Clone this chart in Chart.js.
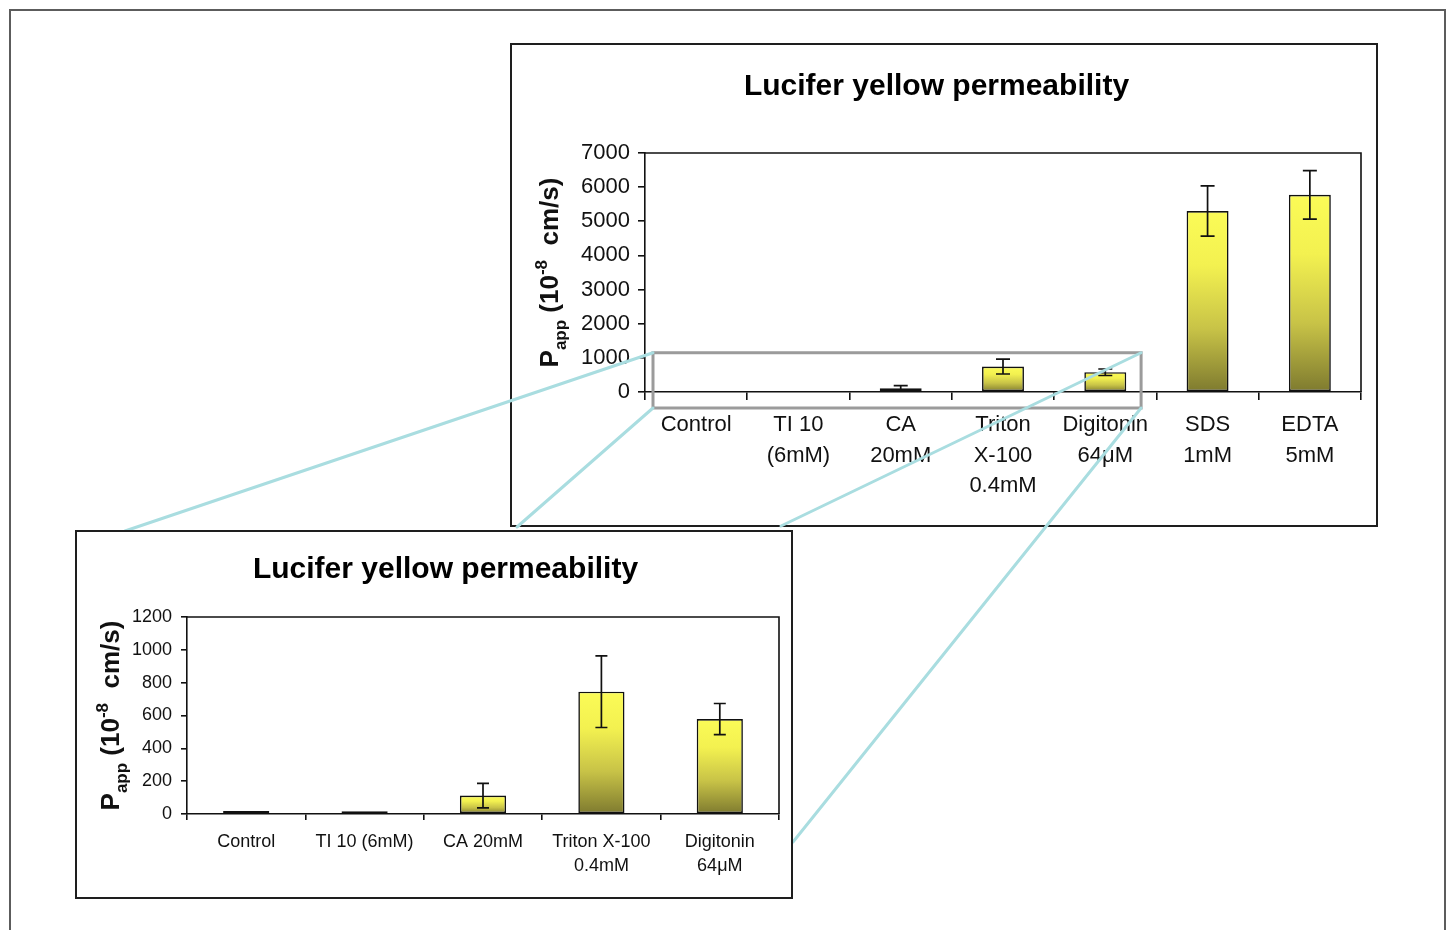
<!DOCTYPE html>
<html>
<head>
<meta charset="utf-8">
<title>Lucifer yellow permeability</title>
<script src="https://cdn.jsdelivr.net/npm/chart.js@4.4.1/dist/chart.umd.min.js"></script>
<style>
  html, body { margin: 0; padding: 0; background: #fff; width: 1448px; height: 930px; overflow: hidden; }
  #frame { position: absolute; left: 9px; top: 9px; width: 1437px; height: 960px; border: 2px solid #5c5c5c; box-sizing: border-box; }
  .panel { position: absolute; background: #fff; border: 2px solid #1e1e1e; box-sizing: border-box; }
  #mainPanel { left: 510px; top: 43px; width: 868px; height: 484px; z-index: 1; }
  #zoomPanel { left: 75px; top: 530px; width: 718px; height: 369px; z-index: 3; }
  #links { position: absolute; left: 0; top: 0; z-index: 2; pointer-events: none; }
  .panel canvas { position: absolute; left: 0; top: 0; }
</style>
</head>
<body>
<div id="frame"></div>
<div class="panel" id="mainPanel"><canvas id="mainChart" width="864" height="480"></canvas></div>
<canvas id="links" width="1448" height="930"></canvas>
<div class="panel" id="zoomPanel"><canvas id="zoomChart" width="714" height="365"></canvas></div>

<script>
// ---- data ----
const titleText = 'Lucifer yellow permeability';

// all treatments (full-range chart)
const allLabels = [
  ['Control'],
  ['TI 10', '(6mM)'],
  ['CA', '20mM'],
  ['Triton', 'X-100', '0.4mM'],
  ['Digitonin', '64\u03BCM'],
  ['SDS', '1mM'],
  ['EDTA', '5mM']
];
const allPapp = [18, 16, 112, 745, 578, 5300, 5775];
const allErr  = [0, 0, 75, 218, 95, 735, 710];

// low-permeability subset (expanded chart)
const lowLabels = [
  ['Control'],
  ['TI 10 (6mM)'],
  ['CA 20mM'],
  ['Triton X-100', '0.4mM'],
  ['Digitonin', '64\u03BCM']
];
const lowPapp = allPapp.slice(0, 5);
const lowErr  = allErr.slice(0, 5);

const mainTicks = { min: 0, max: 7000, step: 1000 };
const zoomTicks = { min: 0, max: 1200, step: 200 };

// ---- styling helpers ----
const FONT = '"Liberation Sans", Arial, Helvetica, sans-serif';
const INK = '#111';

// yellow-to-olive fill spanning each bar from its top down to zero
function barFill(context) {
  const chart = context.chart;
  const { ctx, chartArea, scales } = chart;
  if (!chartArea || context.raw == null) return '#efed4f';
  const top = scales.y.getPixelForValue(context.raw);
  const base = scales.y.getPixelForValue(0);
  if (base - top < 4) return '#141410';
  const g = ctx.createLinearGradient(0, top, 0, base);
  g.addColorStop(0, '#fbfb57');
  g.addColorStop(0.3, '#f3f150');
  g.addColorStop(0.65, '#c8c347');
  g.addColorStop(1, '#7e7a2f');
  return g;
}

// whiskers: value +/- error with caps
const errorBars = {
  id: 'errorBars',
  afterDatasetsDraw(chart, args, opts) {
    const ctx = chart.ctx;
    const y = chart.scales.y;
    const values = chart.data.datasets[0].data;
    const meta = chart.getDatasetMeta(0);
    ctx.save();
    ctx.strokeStyle = INK;
    ctx.lineWidth = opts.lineWidth || 1.6;
    meta.data.forEach((bar, i) => {
      const e = opts.errors[i];
      if (!e) return;
      const v = values[i];
      const yt = y.getPixelForValue(v + e);
      const yb = y.getPixelForValue(Math.max(v - e, 0));
      const c = opts.cap;
      ctx.beginPath();
      ctx.moveTo(bar.x, yt); ctx.lineTo(bar.x, yb);
      ctx.moveTo(bar.x - c, yt); ctx.lineTo(bar.x + c, yt);
      ctx.moveTo(bar.x - c, yb); ctx.lineTo(bar.x + c, yb);
      ctx.stroke();
    });
    ctx.restore();
  }
};

// plot-area box (top and right edges)
const plotFrame = {
  id: 'plotFrame',
  afterDatasetsDraw(chart) {
    const { ctx, chartArea: a } = chart;
    ctx.save();
    ctx.strokeStyle = INK;
    ctx.lineWidth = 1.6;
    ctx.beginPath();
    ctx.moveTo(a.left, a.top); ctx.lineTo(a.right, a.top); ctx.lineTo(a.right, a.bottom);
    ctx.stroke();
    ctx.restore();
  }
};

// rotated y title: P_app (10^-8 cm/s)
const yTitle = {
  id: 'yTitle',
  afterDraw(chart, args, opts) {
    const { ctx, chartArea: a } = chart;
    const size = opts.size;
    const small = Math.round(size * 0.66);
    const parts = [
      { t: 'P', s: size, dy: 0 },
      { t: 'app', s: small, dy: size * 0.3 },
      { t: ' (10', s: size, dy: 0 },
      { t: '-8', s: small, dy: -size * 0.42 },
      { t: '  cm/s)', s: size, dy: 0 }
    ];
    ctx.save();
    ctx.translate(opts.x, (a.top + a.bottom) / 2);
    ctx.rotate(-Math.PI / 2);
    ctx.fillStyle = INK;
    ctx.textBaseline = 'alphabetic';
    ctx.textAlign = 'left';
    let total = 0;
    parts.forEach(p => { ctx.font = `bold ${p.s}px ${FONT}`; p.w = ctx.measureText(p.t).width; total += p.w; });
    let x = -total / 2;
    parts.forEach(p => { ctx.font = `bold ${p.s}px ${FONT}`; ctx.fillText(p.t, x, p.dy); x += p.w; });
    ctx.restore();
  }
};

function buildChart(canvas, cfg) {
  return new Chart(canvas, {
    type: 'bar',
    data: {
      labels: cfg.labels,
      datasets: [{
        data: cfg.values,
        backgroundColor: barFill,
        borderColor: INK,
        borderWidth: 1.6,
        borderSkipped: false,
        barPercentage: cfg.barPct,
        categoryPercentage: 1
      }]
    },
    options: {
      responsive: false,
      animation: false,
      devicePixelRatio: 1,
      layout: { padding: { left: cfg.padLeft, right: cfg.padRight, top: 0, bottom: 0 } },
      plugins: {
        legend: { display: false },
        tooltip: { enabled: false },
        title: {
          display: true,
          text: titleText,
          color: '#000',
          font: { family: FONT, size: 30, weight: 'bold', lineHeight: 1.2 },
          padding: { top: cfg.titleTop, bottom: cfg.titleBottom }
        },
        errorBars: { errors: cfg.errors, cap: cfg.cap, lineWidth: 1.7 },
        yTitle: { x: cfg.yTitleX, size: 26 }
      },
      scales: {
        x: {
          afterFit(scale) { scale.height = cfg.xHeight; },
          grid: { offset: true, drawOnChartArea: false, tickLength: cfg.xTick, color: INK, lineWidth: 1.6 },
          border: { color: INK, width: 1.6 },
          ticks: {
            color: INK, padding: cfg.xPad, maxRotation: 0, autoSkip: false,
            font: { family: FONT, size: cfg.tickSize, lineHeight: cfg.lineH }
          }
        },
        y: {
          min: cfg.ticks.min, max: cfg.ticks.max,
          afterFit(scale) { scale.width = cfg.yWidth; },
          grid: { drawOnChartArea: false, tickLength: cfg.yTick, color: INK, lineWidth: 1.6 },
          border: { color: INK, width: 1.6 },
          ticks: {
            stepSize: cfg.ticks.step, color: INK, padding: cfg.yPad,
            font: { family: FONT, size: cfg.tickSize },
            callback: v => String(v)
          }
        }
      }
    },
    plugins: [plotFrame, errorBars, yTitle]
  });
}

const mainCanvas = document.getElementById('mainChart');
const mainChart = buildChart(mainCanvas, {
  labels: allLabels, values: allPapp, errors: allErr, ticks: mainTicks,
  barPct: 0.41, cap: 7,
  padLeft: 0, padRight: 15, yWidth: 133, xHeight: 133,
  titleTop: 24, titleBottom: 48,
  tickSize: 22, lineH: 1.38, xTick: 8, xPad: 10, yTick: 7, yPad: 8,
  yTitleX: 46
});

const zoomCanvas = document.getElementById('zoomChart');
const zoomChart = buildChart(zoomCanvas, {
  labels: lowLabels, values: lowPapp, errors: lowErr, ticks: zoomTicks,
  barPct: 0.39, cap: 6,
  padLeft: 35, padRight: 12, yWidth: 75, xHeight: 83,
  titleTop: 20, titleBottom: 29,
  tickSize: 18, lineH: 1.33, xTick: 6, xPad: 10, yTick: 6, yPad: 9,
  yTitleX: 42
});

// ---- zoom marker on the full-range chart and its connector lines ----
(function drawLinks() {
  const links = document.getElementById('links');
  const ctx = links.getContext('2d');
  const r = mainCanvas.getBoundingClientRect();
  const xs = mainChart.scales.x, ys = mainChart.scales.y, a = mainChart.chartArea;
  const band = xs.width / allLabels.length;
  const left = r.left + a.left + 8;
  const right = r.left + xs.getPixelForValue(lowLabels.length - 1) + band * 0.35;
  const top = r.top + ys.getPixelForValue(1150);
  const bottom = r.top + a.bottom + 16;

  ctx.strokeStyle = '#9b9b9b';
  ctx.lineWidth = 3;
  ctx.strokeRect(left, top, right - left, bottom - top);

  ctx.strokeStyle = '#a9dde0';
  ctx.lineWidth = 3;
  ctx.lineCap = 'round';
  const segs = [
    [left, top, 125, 531],
    [left, bottom, 517, 527],
    [right, top, 781, 526],
    [right, bottom, 793, 842]
  ];
  segs.forEach(s => { ctx.beginPath(); ctx.moveTo(s[0], s[1]); ctx.lineTo(s[2], s[3]); ctx.stroke(); });
})();
</script>
</body>
</html>
